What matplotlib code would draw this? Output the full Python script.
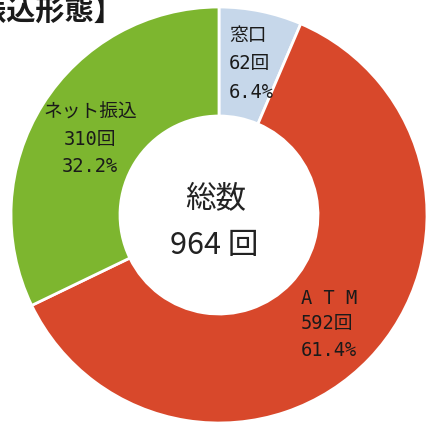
import matplotlib
matplotlib.use("Agg")
import matplotlib.pyplot as plt

plt.rcParams['font.family'] = ['Noto Sans CJK JP', 'DejaVu Sans']

title = "【振込形態】"
categories = ["窓口", "ATM", "ネット振込"]
category_labels = ["窓口", "A T M", "ネット振込"]
counts = [62, 592, 310]
percents = [6.4, 61.4, 32.2]
total = 964
colors = ["#c6d7ea", "#d8482b", "#7db62f"]

W, H = 428, 426
fig = plt.figure(figsize=(W / 100, H / 100), dpi=100)
ax = fig.add_axes([0, 0, 1, 1])

cx, cy = 219, H - 215
r_out, r_in = 208, 99

ax.pie(counts, colors=colors, startangle=90, counterclock=False,
       radius=r_out, center=(cx, cy),
       wedgeprops=dict(width=r_out - r_in, edgecolor='white', linewidth=2))
ax.set_xlim(0, W)
ax.set_ylim(0, H)
ax.set_aspect('equal')
ax.axis('off')

def py(y):
    return H - y

# Title (partially cut off at the left, as in the reference)
ax.text(124, py(11), title, ha='right', va='center', fontsize=21,
        fontweight='bold', color='#1a1a1a')

# Slice labels
lab_fs = 13.5
lab_family = ['DejaVu Sans Mono', 'Noto Sans CJK JP']
lines = {
    0: (229, [36, 64, 92], 'left'),
    1: (301, [298, 323, 350], 'left'),
    2: (90, [112, 140, 167], 'center'),
}
for i, (x, ys, ha) in lines.items():
    texts = [category_labels[i], f"{counts[i]}回", f"{percents[i]}%"]
    for t, y in zip(texts, ys):
        ax.text(x, py(y), t, ha=ha, va='center', fontsize=lab_fs,
                family=lab_family, color='#1a1a1a')

# Center text
ax.text(216, py(200), "総数", ha='center', va='center', fontsize=22, color='#222222')
ax.text(214, py(246), f"{total} 回", ha='center', va='center', fontsize=22, color='#222222')

fig.savefig("out.png", dpi=100)
